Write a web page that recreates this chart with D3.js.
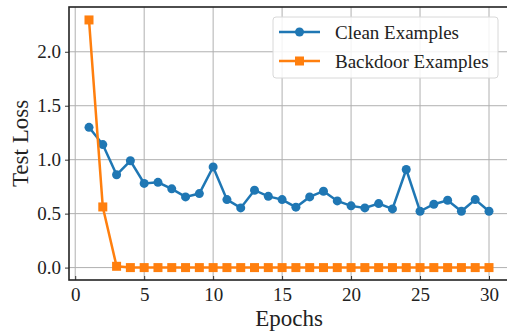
<!DOCTYPE html>
<html>
<head>
<meta charset="utf-8">
<script src="https://cdn.jsdelivr.net/npm/d3@7"></script>
<style>
  body { margin: 0; background: #fff; }
  svg { display: block; font-family: "Liberation Serif", "Times New Roman", serif; }
</style>
</head>
<body>
<svg id="viz"></svg>
<script>
let width = 507;
let height = 332;
let margin = {top: 7, right: -2, bottom: 52, left: 69};
let serif = "'Liberation Serif', 'Times New Roman', serif";

let epochs = d3.range(1, 31);
let cleanLoss = [1.30, 1.14, 0.86, 0.99, 0.78, 0.79, 0.73, 0.655, 0.686, 0.933,
                 0.63, 0.553, 0.717, 0.66, 0.63, 0.56, 0.655, 0.708, 0.618, 0.572,
                 0.553, 0.593, 0.544, 0.909, 0.522, 0.587, 0.624, 0.522, 0.63, 0.522];
let backdoorLoss = [2.295, 0.562, 0.012, 0, 0, 0, 0, 0, 0, 0,
                    0, 0, 0, 0, 0, 0, 0, 0, 0, 0,
                    0, 0, 0, 0, 0, 0, 0, 0, 0, 0];
let xTicks = [0, 5, 10, 15, 20, 25, 30];
let yTicks = [0.0, 0.5, 1.0, 1.5, 2.0];
let seriesNames = ["Clean Examples", "Backdoor Examples"];
let colors = ["#1f77b4", "#ff7f0e"];

let svg = d3.select("#viz")
    .attr("width", width)
    .attr("height", height);

let x = d3.scaleLinear()
    .domain([-0.45, 31.45])
    .range([margin.left, width - margin.right]);
let y = d3.scaleLinear()
    .domain([-0.115, 2.415])
    .range([height - margin.bottom, margin.top]);

// grid
svg.append("g").selectAll("line.gx")
    .data(xTicks).enter().append("line")
    .attr("x1", d => x(d)).attr("x2", d => x(d))
    .attr("y1", y.range()[0]).attr("y2", y.range()[1])
    .attr("stroke", "#b0b0b0").attr("stroke-width", 1);
svg.append("g").selectAll("line.gy")
    .data(yTicks).enter().append("line")
    .attr("y1", d => y(d)).attr("y2", d => y(d))
    .attr("x1", x.range()[0]).attr("x2", x.range()[1])
    .attr("stroke", "#b0b0b0").attr("stroke-width", 1);

// axes
let xAxis = svg.append("g")
    .attr("transform", "translate(0," + y.range()[0] + ")")
    .call(d3.axisBottom(x).tickValues(xTicks).tickSize(-4).tickPadding(8).tickFormat(d3.format("d")));
let yAxis = svg.append("g")
    .attr("transform", "translate(" + x.range()[0] + ",0)")
    .call(d3.axisLeft(y).tickValues(yTicks).tickSize(4).tickPadding(4).tickFormat(d3.format(".1f")));
[xAxis, yAxis].forEach(function(a) {
    a.attr("font-family", serif).attr("font-size", 19);
    a.select(".domain").remove();
    a.selectAll("text").style("font-family", serif).attr("fill", "#222");
    a.selectAll("line").attr("stroke", "#333");
});

// frame
svg.append("rect")
    .attr("x", x.range()[0]).attr("y", y.range()[1])
    .attr("width", x.range()[1] - x.range()[0])
    .attr("height", y.range()[0] - y.range()[1])
    .attr("fill", "none").attr("stroke", "#222").attr("stroke-width", 1.6);

let line = d3.line()
    .x((d, i) => x(epochs[i]))
    .y(d => y(d));

// clean
svg.append("path").datum(cleanLoss)
    .attr("d", line).attr("fill", "none")
    .attr("stroke", colors[0]).attr("stroke-width", 2.5);
svg.append("g").selectAll("circle")
    .data(cleanLoss).enter().append("circle")
    .attr("cx", (d, i) => x(epochs[i])).attr("cy", d => y(d))
    .attr("r", 4.5).attr("fill", colors[0]);

// backdoor
svg.append("path").datum(backdoorLoss)
    .attr("d", line).attr("fill", "none")
    .attr("stroke", colors[1]).attr("stroke-width", 2.5);
svg.append("g").selectAll("rect")
    .data(backdoorLoss).enter().append("rect")
    .attr("x", (d, i) => x(epochs[i]) - 4.5).attr("y", d => y(d) - 4.5)
    .attr("width", 9).attr("height", 9).attr("fill", colors[1]);

// axis labels
svg.append("text")
    .attr("x", 289).attr("y", 326)
    .attr("text-anchor", "middle").attr("font-size", 23).attr("fill", "#222")
    .text("Epochs");
svg.append("text")
    .attr("transform", "translate(28," + (y.range()[0] + y.range()[1]) / 2 + ") rotate(-90)")
    .attr("text-anchor", "middle").attr("font-size", 23).attr("fill", "#222")
    .text("Test Loss");

// legend
let legend = svg.append("g");
legend.append("rect")
    .attr("x", 273).attr("y", 17).attr("width", 225).attr("height", 61).attr("rx", 3)
    .attr("fill", "#fff").attr("fill-opacity", 0.85)
    .attr("stroke", "#d8d8d8").attr("stroke-width", 1);
seriesNames.forEach(function(name, i) {
    let ly = 32 + i * 29;
    legend.append("line")
        .attr("x1", 279).attr("x2", 320).attr("y1", ly).attr("y2", ly)
        .attr("stroke", colors[i]).attr("stroke-width", 2.5);
    if (i === 0) {
        legend.append("circle").attr("cx", 299.5).attr("cy", ly).attr("r", 4.5).attr("fill", colors[i]);
    } else {
        legend.append("rect").attr("x", 295).attr("y", ly - 4.5).attr("width", 9).attr("height", 9).attr("fill", colors[i]);
    }
    legend.append("text")
        .attr("x", 335).attr("y", ly).attr("dy", "0.35em")
        .attr("font-size", 19).attr("fill", "#222")
        .text(name);
});
</script>
</body>
</html>
